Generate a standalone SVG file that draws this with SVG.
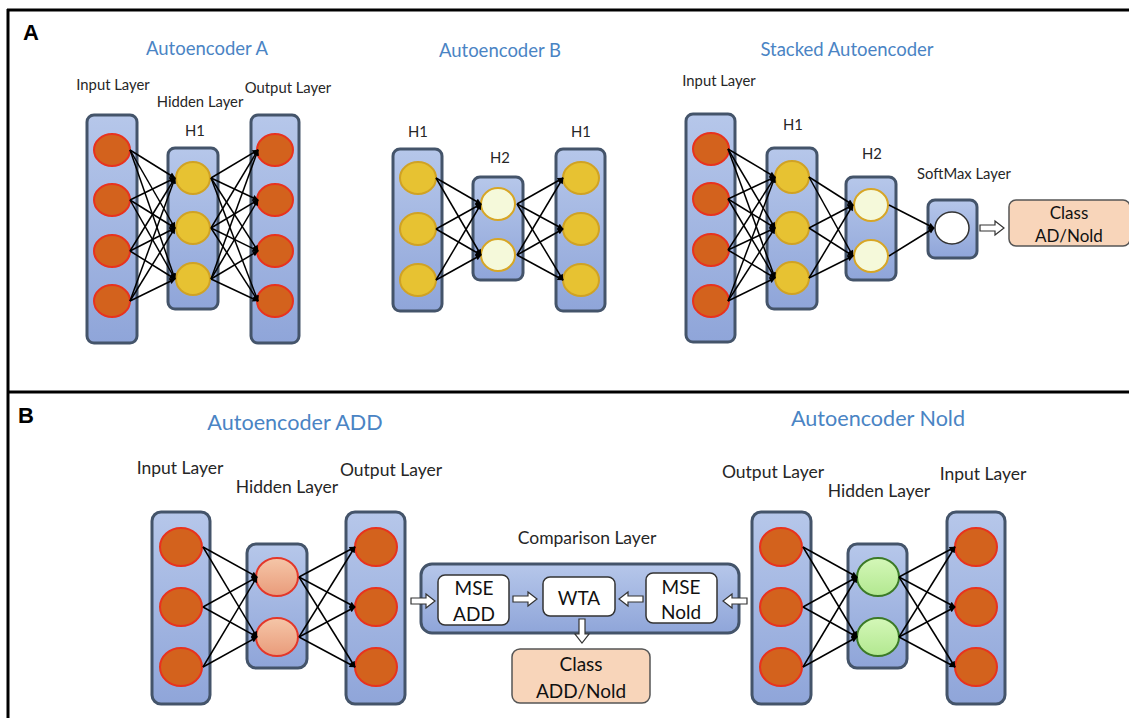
<svg xmlns="http://www.w3.org/2000/svg" width="1129" height="718" viewBox="0 0 1129 718">
  <style>
    text { font-family: Lato, "Open Sans", "Liberation Sans", sans-serif; fill: #262626; dominant-baseline: central; text-anchor: middle; }
    .panel { font-family: "Liberation Sans", Arial, sans-serif; font-weight: bold; fill: #000; font-size: 22px; }
    .titleA { fill: #4a84c4; font-size: 18.5px; }
    .titleB { fill: #4a84c4; font-size: 21.6px; }
    .lblA { font-size: 14.8px; }
    .lblB { font-size: 17.5px; }
    .box { font-size: 19px; fill: #111; }
    .layer { fill: url(#layerGrad); stroke: #44546a; stroke-width: 3; }
    .orange { fill: #d3621d; stroke: #e8321e; stroke-width: 2; }
    .yellow { fill: #e7c232; stroke: #d0a224; stroke-width: 2; }
    .cream { fill: #f5f9da; stroke: #d7a626; stroke-width: 2; }
    .salmon { fill: url(#salmonGrad); stroke: #e3372a; stroke-width: 2; }
    .green { fill: url(#greenGrad); stroke: #3b7a27; stroke-width: 2; }
    .white { fill: #fff; stroke: #333; stroke-width: 1.5; }
    .cls { fill: #f8d5ba; stroke: #555; stroke-width: 1.5; }
    .frame { stroke: #000; stroke-width: 3; fill: none; }
    #connectors line { stroke: #000; stroke-width: 1.5; marker-end: url(#tip); }
    .hollow { fill: #fff; stroke: #333; stroke-width: 1.2; }
  </style>
  <defs>
    <linearGradient id="layerGrad" x1="0" y1="0" x2="0" y2="1">
      <stop offset="0" stop-color="#b6c7ea"/>
      <stop offset="1" stop-color="#8fa5d9"/>
    </linearGradient>
    <linearGradient id="salmonGrad" x1="0" y1="0" x2="0" y2="1">
      <stop offset="0" stop-color="#f5c6a8"/>
      <stop offset="1" stop-color="#e99b7a"/>
    </linearGradient>
    <linearGradient id="greenGrad" x1="0" y1="0" x2="0" y2="1">
      <stop offset="0" stop-color="#d4f7b8"/>
      <stop offset="1" stop-color="#b2e890"/>
    </linearGradient>
    <marker id="tip" viewBox="0 0 10 10" refX="9" refY="5" markerWidth="8" markerHeight="6" markerUnits="userSpaceOnUse" orient="auto">
      <path d="M0,0 L10,5 L0,10 Z" fill="#000"/>
    </marker>
    <!-- block arrow pointing right, tip at x=24 -->
    <path id="blockArrow" class="hollow" d="M0,-3 H15 V-7 L24,0 L15,7 V3 H0 Z"/>
  </defs>

  <rect width="1129" height="718" fill="#fff"/>

  <!-- panel frame -->
  <g id="frame">
    <line class="frame" x1="7" y1="10" x2="1129" y2="10"/>
    <line class="frame" x1="8" y1="9" x2="8" y2="718"/>
    <line class="frame" x1="7" y1="392" x2="1129" y2="392"/>
    <text class="panel" x="31" y="32">A</text>
    <text class="panel" x="26" y="415">B</text>
  </g>

  <!-- Panel A: Autoencoder A -->
  <g id="aeA-title"><text class="titleA" x="207" y="48">Autoencoder A</text></g>
  <g id="aeA-input">
    <text class="lblA" x="113" y="84">Input Layer</text>
    <rect class="layer" x="87" y="115" width="50" height="228" rx="7"/>
    <ellipse class="orange" cx="112" cy="150" rx="18" ry="16"/>
    <ellipse class="orange" cx="112" cy="200" rx="18" ry="16"/>
    <ellipse class="orange" cx="112" cy="251" rx="18" ry="16"/>
    <ellipse class="orange" cx="112" cy="301" rx="18" ry="16"/>
  </g>
  <g id="aeA-hidden">
    <text class="lblA" x="200" y="101">Hidden Layer</text>
    <text class="lblA" x="195" y="130">H1</text>
    <rect class="layer" x="168" y="148" width="50" height="161" rx="7"/>
    <ellipse class="yellow" cx="193" cy="178" rx="17" ry="16"/>
    <ellipse class="yellow" cx="193" cy="228" rx="17" ry="16"/>
    <ellipse class="yellow" cx="193" cy="279" rx="17" ry="16"/>
  </g>
  <g id="aeA-output">
    <text class="lblA" x="288" y="87">Output Layer</text>
    <rect class="layer" x="251" y="115" width="48" height="228" rx="7"/>
    <ellipse class="orange" cx="275" cy="150" rx="18" ry="16"/>
    <ellipse class="orange" cx="275" cy="200" rx="18" ry="16"/>
    <ellipse class="orange" cx="275" cy="251" rx="18" ry="16"/>
    <ellipse class="orange" cx="275" cy="301" rx="18" ry="16"/>
  </g>

  <!-- Panel A: Autoencoder B -->
  <g id="aeB-title"><text class="titleA" x="500" y="50">Autoencoder B</text></g>
  <g id="aeB-h1-left">
    <text class="lblA" x="418" y="131">H1</text>
    <rect class="layer" x="393" y="149" width="49" height="162" rx="7"/>
    <ellipse class="yellow" cx="418" cy="178" rx="18" ry="16"/>
    <ellipse class="yellow" cx="418" cy="229" rx="18" ry="16"/>
    <ellipse class="yellow" cx="418" cy="280" rx="18" ry="16"/>
  </g>
  <g id="aeB-h2">
    <text class="lblA" x="500" y="157">H2</text>
    <rect class="layer" x="473" y="177" width="50" height="103" rx="7"/>
    <ellipse class="cream" cx="498" cy="204" rx="17" ry="16"/>
    <ellipse class="cream" cx="498" cy="255" rx="17" ry="16"/>
  </g>
  <g id="aeB-h1-right">
    <text class="lblA" x="581" y="131">H1</text>
    <rect class="layer" x="556" y="149" width="49" height="162" rx="7"/>
    <ellipse class="yellow" cx="581" cy="178" rx="18" ry="16"/>
    <ellipse class="yellow" cx="581" cy="229" rx="18" ry="16"/>
    <ellipse class="yellow" cx="581" cy="280" rx="18" ry="16"/>
  </g>

  <!-- Panel A: Stacked Autoencoder -->
  <g id="sae-title"><text class="titleA" x="847" y="49">Stacked Autoencoder</text></g>
  <g id="sae-input">
    <text class="lblA" x="719" y="80">Input Layer</text>
    <rect class="layer" x="686" y="114" width="49" height="228" rx="7"/>
    <ellipse class="orange" cx="711" cy="149" rx="18" ry="16"/>
    <ellipse class="orange" cx="711" cy="199" rx="18" ry="16"/>
    <ellipse class="orange" cx="711" cy="250" rx="18" ry="16"/>
    <ellipse class="orange" cx="711" cy="301" rx="18" ry="16"/>
  </g>
  <g id="sae-h1">
    <text class="lblA" x="793" y="124">H1</text>
    <rect class="layer" x="767" y="148" width="50" height="161" rx="7"/>
    <ellipse class="yellow" cx="792" cy="177" rx="17" ry="16"/>
    <ellipse class="yellow" cx="792" cy="228" rx="17" ry="16"/>
    <ellipse class="yellow" cx="792" cy="278" rx="17" ry="16"/>
  </g>
  <g id="sae-h2">
    <text class="lblA" x="872" y="153">H2</text>
    <rect class="layer" x="846" y="177" width="50" height="103" rx="7"/>
    <ellipse class="cream" cx="871" cy="205" rx="17" ry="16"/>
    <ellipse class="cream" cx="871" cy="256" rx="17" ry="16"/>
  </g>
  <g id="sae-softmax">
    <text class="lblA" x="964" y="173">SoftMax Layer</text>
    <rect class="layer" x="928" y="200" width="49" height="58" rx="7"/>
    <ellipse cx="952" cy="228" rx="17" ry="16" fill="#fff" stroke="#333" stroke-width="1.5"/>
  </g>
  <g id="sae-class">
    <rect class="cls" x="1009" y="200" width="121" height="46" rx="7"/>
    <text class="box" x="1069" y="212" style="font-size:17px">Class</text>
    <text class="box" x="1069" y="235" style="font-size:17px">AD/Nold</text>
  </g>

  <!-- Panel B: Autoencoder ADD -->
  <g id="add-title"><text class="titleB" x="295" y="422">Autoencoder ADD</text></g>
  <g id="add-input">
    <text class="lblB" x="180" y="467">Input Layer</text>
    <rect class="layer" x="152" y="512" width="58" height="192" rx="9"/>
    <ellipse class="orange" cx="181" cy="547" rx="21" ry="19"/>
    <ellipse class="orange" cx="181" cy="607" rx="21" ry="19"/>
    <ellipse class="orange" cx="181" cy="667" rx="21" ry="19"/>
  </g>
  <g id="add-hidden">
    <text class="lblB" x="287" y="486">Hidden Layer</text>
    <rect class="layer" x="247" y="544" width="60" height="124" rx="9"/>
    <ellipse class="salmon" cx="277" cy="577" rx="21" ry="19"/>
    <ellipse class="salmon" cx="277" cy="637" rx="21" ry="19"/>
  </g>
  <g id="add-output">
    <text class="lblB" x="391" y="469">Output Layer</text>
    <rect class="layer" x="346" y="512" width="59" height="192" rx="9"/>
    <ellipse class="orange" cx="376" cy="547" rx="21" ry="19"/>
    <ellipse class="orange" cx="376" cy="607" rx="21" ry="19"/>
    <ellipse class="orange" cx="376" cy="667" rx="21" ry="19"/>
  </g>

  <!-- Panel B: comparison layer -->
  <g id="comparison">
    <text class="lblB" x="587" y="537">Comparison Layer</text>
    <rect class="layer" x="421" y="564" width="318" height="69" rx="11"/>
  </g>
  <g id="mse-add">
    <rect class="white" x="438" y="575" width="71" height="50" rx="7"/>
    <text class="box" x="474" y="587">MSE</text>
    <text class="box" x="474" y="613">ADD</text>
  </g>
  <g id="wta">
    <rect class="white" x="543" y="577" width="72" height="39" rx="7"/>
    <text class="box" x="579" y="597">WTA</text>
  </g>
  <g id="mse-nold">
    <rect class="white" x="646" y="573" width="71" height="50" rx="7"/>
    <text class="box" x="681" y="586">MSE</text>
    <text class="box" x="681" y="611">Nold</text>
  </g>
  <g id="class-add-nold">
    <rect class="cls" x="512" y="649" width="138" height="54" rx="8"/>
    <text class="box" x="581" y="663">Class</text>
    <text class="box" x="581" y="690">ADD/Nold</text>
  </g>

  <!-- Panel B: Autoencoder Nold -->
  <g id="nold-title"><text class="titleB" x="878" y="418">Autoencoder Nold</text></g>
  <g id="nold-output">
    <text class="lblB" x="773" y="471">Output Layer</text>
    <rect class="layer" x="752" y="512" width="59" height="192" rx="9"/>
    <ellipse class="orange" cx="781" cy="547" rx="21" ry="19"/>
    <ellipse class="orange" cx="781" cy="607" rx="21" ry="19"/>
    <ellipse class="orange" cx="781" cy="667" rx="21" ry="19"/>
  </g>
  <g id="nold-hidden">
    <text class="lblB" x="879" y="490">Hidden Layer</text>
    <rect class="layer" x="848" y="544" width="59" height="124" rx="9"/>
    <ellipse class="green" cx="878" cy="577" rx="21" ry="19"/>
    <ellipse class="green" cx="878" cy="637" rx="21" ry="19"/>
  </g>
  <g id="nold-input">
    <text class="lblB" x="983" y="473">Input Layer</text>
    <rect class="layer" x="947" y="512" width="58" height="192" rx="9"/>
    <ellipse class="orange" cx="976" cy="547" rx="21" ry="19"/>
    <ellipse class="orange" cx="976" cy="607" rx="21" ry="19"/>
    <ellipse class="orange" cx="976" cy="667" rx="21" ry="19"/>
  </g>

  <!-- connectors, drawn over the nodes so the tips sit on the circle edges -->
  <g id="connectors">
    <!-- Autoencoder A: input -> H1 -->
    <line x1="130" y1="150" x2="175" y2="178"/><line x1="130" y1="150" x2="175" y2="228"/><line x1="130" y1="150" x2="175" y2="279"/>
    <line x1="130" y1="200" x2="175" y2="178"/><line x1="130" y1="200" x2="175" y2="228"/><line x1="130" y1="200" x2="175" y2="279"/>
    <line x1="130" y1="251" x2="175" y2="178"/><line x1="130" y1="251" x2="175" y2="228"/><line x1="130" y1="251" x2="175" y2="279"/>
    <line x1="130" y1="301" x2="175" y2="178"/><line x1="130" y1="301" x2="175" y2="228"/><line x1="130" y1="301" x2="175" y2="279"/>
    <!-- Autoencoder A: H1 -> output -->
    <line x1="211" y1="178" x2="258" y2="150"/><line x1="211" y1="178" x2="258" y2="200"/><line x1="211" y1="178" x2="258" y2="251"/><line x1="211" y1="178" x2="258" y2="301"/>
    <line x1="211" y1="228" x2="258" y2="150"/><line x1="211" y1="228" x2="258" y2="200"/><line x1="211" y1="228" x2="258" y2="251"/><line x1="211" y1="228" x2="258" y2="301"/>
    <line x1="211" y1="279" x2="258" y2="150"/><line x1="211" y1="279" x2="258" y2="200"/><line x1="211" y1="279" x2="258" y2="251"/><line x1="211" y1="279" x2="258" y2="301"/>
    <!-- Autoencoder B: H1 -> H2 -->
    <line x1="436" y1="178" x2="481" y2="204"/><line x1="436" y1="178" x2="481" y2="255"/>
    <line x1="436" y1="229" x2="481" y2="204"/><line x1="436" y1="229" x2="481" y2="255"/>
    <line x1="436" y1="280" x2="481" y2="204"/><line x1="436" y1="280" x2="481" y2="255"/>
    <!-- Autoencoder B: H2 -> H1 -->
    <line x1="517" y1="204" x2="563" y2="178"/><line x1="517" y1="204" x2="563" y2="229"/><line x1="517" y1="204" x2="563" y2="280"/>
    <line x1="517" y1="255" x2="563" y2="178"/><line x1="517" y1="255" x2="563" y2="229"/><line x1="517" y1="255" x2="563" y2="280"/>
    <!-- Stacked: input -> H1 -->
    <line x1="728" y1="149" x2="775" y2="177"/><line x1="728" y1="149" x2="775" y2="228"/><line x1="728" y1="149" x2="775" y2="278"/>
    <line x1="728" y1="199" x2="775" y2="177"/><line x1="728" y1="199" x2="775" y2="228"/><line x1="728" y1="199" x2="775" y2="278"/>
    <line x1="728" y1="250" x2="775" y2="177"/><line x1="728" y1="250" x2="775" y2="228"/><line x1="728" y1="250" x2="775" y2="278"/>
    <line x1="728" y1="301" x2="775" y2="177"/><line x1="728" y1="301" x2="775" y2="228"/><line x1="728" y1="301" x2="775" y2="278"/>
    <!-- Stacked: H1 -> H2 -->
    <line x1="809" y1="177" x2="853" y2="205"/><line x1="809" y1="177" x2="853" y2="256"/>
    <line x1="809" y1="228" x2="853" y2="205"/><line x1="809" y1="228" x2="853" y2="256"/>
    <line x1="809" y1="278" x2="853" y2="205"/><line x1="809" y1="278" x2="853" y2="256"/>
    <!-- Stacked: H2 -> SoftMax -->
    <line x1="889" y1="205" x2="934" y2="228"/><line x1="889" y1="256" x2="934" y2="228"/>
    <!-- Autoencoder ADD: input -> hidden -->
    <line x1="203" y1="547" x2="257" y2="577"/><line x1="203" y1="547" x2="257" y2="637"/>
    <line x1="203" y1="607" x2="257" y2="577"/><line x1="203" y1="607" x2="257" y2="637"/>
    <line x1="203" y1="667" x2="257" y2="577"/><line x1="203" y1="667" x2="257" y2="637"/>
    <!-- Autoencoder ADD: hidden -> output -->
    <line x1="299" y1="577" x2="355" y2="547"/><line x1="299" y1="577" x2="355" y2="607"/><line x1="299" y1="577" x2="355" y2="667"/>
    <line x1="299" y1="637" x2="355" y2="547"/><line x1="299" y1="637" x2="355" y2="607"/><line x1="299" y1="637" x2="355" y2="667"/>
    <!-- Autoencoder Nold: output column -> hidden -->
    <line x1="803" y1="547" x2="857" y2="577"/><line x1="803" y1="547" x2="857" y2="637"/>
    <line x1="803" y1="607" x2="857" y2="577"/><line x1="803" y1="607" x2="857" y2="637"/>
    <line x1="803" y1="667" x2="857" y2="577"/><line x1="803" y1="667" x2="857" y2="637"/>
    <!-- Autoencoder Nold: hidden -> input column -->
    <line x1="899" y1="577" x2="955" y2="547"/><line x1="899" y1="577" x2="955" y2="607"/><line x1="899" y1="577" x2="955" y2="667"/>
    <line x1="899" y1="637" x2="955" y2="547"/><line x1="899" y1="637" x2="955" y2="607"/><line x1="899" y1="637" x2="955" y2="667"/>
    <!-- block arrows -->
    <use href="#blockArrow" transform="translate(980,228)"/>
    <use href="#blockArrow" transform="translate(411,601)"/>
    <use href="#blockArrow" transform="translate(513,599)"/>
    <use href="#blockArrow" transform="translate(643,599) scale(-1,1)"/>
    <use href="#blockArrow" transform="translate(747,601) scale(-1,1)"/>
    <use href="#blockArrow" transform="translate(582,619) rotate(90)"/>
  </g>
</svg>
